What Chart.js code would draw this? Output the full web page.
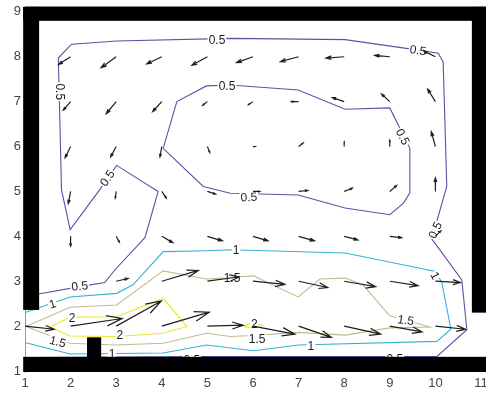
<!DOCTYPE html>
<html>
<head>
<meta charset="utf-8">
<script src="https://cdn.jsdelivr.net/npm/chart.js@4.4.1/dist/chart.umd.min.js"></script>
<style>
  html, body { margin: 0; padding: 0; background: #fff; }
  canvas { display: block; }
</style>
</head>
<body>
<canvas id="flow" width="486" height="394"></canvas>
<script>
// axes
const X_TICKS = [1, 2, 3, 4, 5, 6, 7, 8, 9, 10, 11];
const Y_TICKS = [1, 2, 3, 4, 5, 6, 7, 8, 9];
const X_RANGE = [1, 11.11];
const Y_RANGE = [0.978, 9.13];

// velocity field (quiver) on the grid, rows from y=8 down to y=2
const GRID_X = [1, 2, 3, 4, 5, 6, 7, 8, 9, 10];
const GRID_Y = [8, 7, 6, 5, 4, 3, 2];
const U = [
  [0, -0.26, -0.33, -0.33, -0.34, -0.36, -0.40, -0.40, -0.33, -0.26],
  [0, -0.16, -0.22, -0.20, -0.10, -0.10, -0.16, -0.26, -0.18, -0.17],
  [0, -0.12, -0.12, -0.04, 0.05, 0.05, 0.10, 0.00, 0.00, -0.09],
  [0, -0.05, -0.02, 0.10, 0.18, 0.15, 0.20, 0.18, 0.15, 0.00],
  [0, 0.00, 0.07, 0.24, 0.33, 0.33, 0.35, 0.30, 0.26, 0.12],
  [0, 0.00, 0.26, 0.80, 0.70, 0.70, 0.64, 0.69, 0.62, 0.55],
  [0.64, 1.13, 0.99, 1.04, 0.78, 0.92, 0.72, 0.80, 0.71, 0.66]
];
const V = [
  [0, -0.17, -0.245, -0.16, -0.19, -0.13, -0.11, -0.03, 0.03, 0.13],
  [0, -0.19, -0.27, -0.22, -0.08, -0.07, 0.00, 0.09, 0.17, 0.28],
  [0, -0.25, -0.23, -0.23, -0.13, 0.00, 0.08, 0.10, 0.14, 0.33],
  [0, -0.27, -0.15, -0.15, -0.06, 0.00, 0.02, 0.07, 0.13, 0.30],
  [0, -0.22, -0.13, -0.14, -0.10, -0.10, -0.10, -0.08, -0.03, 0.12],
  [0, 0.00, 0.06, 0.24, 0.10, -0.07, -0.14, -0.12, -0.10, -0.03],
  [-0.07, 0.17, 0.56, 0.31, 0.02, -0.18, -0.25, -0.18, -0.13, -0.07]
];

// speed contours [x, y]
const C05_OUTER = [[1.25, 2.72], [1.33, 2.72], [2.2, 2.88], [2.75, 2.97], [2.97, 3.25], [3.63, 3.97],
  [3.92, 5.0], [3.01, 5.58], [2.64, 5.04], [1.99, 4.15], [1.8, 5.04], [1.75, 7.2], [1.73, 7.97],
  [2.02, 8.28], [3.01, 8.35], [5.5, 8.41], [8.02, 8.38], [9.4, 8.18], [10.06, 8.08], [10.17, 7.89],
  [10.25, 5.11], [10.03, 4.33], [9.88, 4.0], [10.58, 3.03], [10.69, 1.92], [10.03, 1.32],
  [8.9, 1.32], [4.7, 1.32], [1.2, 1.3]];
const C05_INNER = [[4.03, 5.96], [4.33, 7.0], [4.98, 7.35], [5.5, 7.37], [6.99, 7.26], [8.02, 6.83],
  [9.0, 6.86], [9.44, 5.96], [9.44, 4.97], [9.3, 4.74], [9.0, 4.48], [8.02, 4.63], [6.99, 4.92],
  [5.5, 4.96], [4.91, 5.11], [4.03, 5.96]];
const C1 = [[1.02, 2.31], [1.99, 2.65], [3.01, 2.73], [3.37, 2.92], [4.03, 3.66], [4.98, 3.68],
  [5.5, 3.7], [8.02, 3.63], [9.66, 3.29], [9.99, 3.22], [10.14, 2.98], [10.34, 1.93], [10.03, 1.66],
  [7.0, 1.58], [6.01, 1.45], [4.98, 1.58], [4.03, 1.40], [1.99, 1.38], [1.02, 1.63]];
const C15 = [[1.02, 1.99], [1.99, 2.42], [3.01, 2.47], [4.03, 3.23], [4.98, 3.05], [6.01, 3.12],
  [6.99, 2.65], [7.47, 3.05], [8.02, 3.07], [8.41, 2.92], [9.0, 2.23], [9.88, 1.98], [9.0, 1.96],
  [8.02, 1.80], [6.99, 1.86], [6.01, 1.79], [5.5, 1.77], [4.98, 1.84], [4.03, 1.62], [2.97, 1.58],
  [1.99, 1.62], [1.02, 1.99]];
const C2_LEFT = [[1.55, 1.98], [1.99, 2.20], [3.01, 2.21], [4.03, 2.62], [4.55, 1.99], [4.03, 1.84],
  [3.01, 1.77], [1.99, 1.78], [1.55, 1.98]];
const C2_RIGHT = [[5.78, 2.0], [6.0, 2.08], [6.2, 2.02], [6.0, 1.95], [5.78, 2.0]];

// contour labels: level, x, y, angle (deg)
const LABELS = [
  [0.5, 5.21, 8.38, 0], [0.5, 9.62, 8.15, 8], [0.5, 1.77, 7.22, 90], [0.5, 2.80, 5.30, -56],
  [0.5, 9.99, 4.14, -65], [0.5, 9.11, 1.27, 0], [0.5, 4.66, 1.26, 0], [0.5, 2.20, 2.90, -5],
  [0.5, 5.43, 7.35, 0], [0.5, 9.29, 6.22, 63], [0.5, 5.91, 4.88, -3],
  [1, 5.63, 3.70, 0], [1, 10.0, 3.13, 62], [1, 1.60, 2.50, -17], [1, 7.27, 1.56, 0], [1, 2.91, 1.38, 0],
  [1.5, 1.72, 1.66, 15], [1.5, 5.54, 3.07, 0], [1.5, 9.35, 2.14, 8], [1.5, 6.09, 1.72, 0],
  [2, 2.03, 2.18, 0], [2, 3.08, 1.81, 0], [2, 6.03, 2.05, 0]
];

// walls [x0, x1, y0, y1]
const WALLS = [
  [0.96, 11.2, 8.80, 9.11],
  [0.96, 1.31, 2.36, 9.11],
  [10.80, 11.2, 2.30, 9.11],
  [0.96, 11.2, 0.90, 1.316],
  [2.36, 2.67, 1.30, 1.75]
];

const LEVEL_COLORS = { 0.5: "#5a52a5", 1: "#36b2d0", 1.5: "#bcbd8e", 2: "#f0e52e" };

function toPts(arr) {
  return arr.map((p) => ({ x: p[0], y: p[1] }));
}

function contour(level, pts) {
  return {
    level: level,
    data: toPts(pts),
    showLine: true,
    borderColor: LEVEL_COLORS[level],
    borderWidth: 1.1,
    pointRadius: 0,
    tension: 0,
    fill: false
  };
}

const quiverPts = [];
GRID_Y.forEach((y, r) => {
  GRID_X.forEach((x, c) => {
    quiverPts.push({ x: x, y: y, u: U[r][c], v: V[r][c] });
  });
});

// labels, arrows, then the walls on top
const overlayPlugin = {
  id: "overlay",
  afterDatasetsDraw(chart) {
    const ctx = chart.ctx;
    const xs = chart.scales.x;
    const ys = chart.scales.y;

    // contour labels
    ctx.save();
    ctx.font = "12px 'Liberation Sans', Arial, sans-serif";
    ctx.textAlign = "center";
    ctx.textBaseline = "middle";
    LABELS.forEach(([level, x, y, ang]) => {
      const txt = String(level);
      const px = xs.getPixelForValue(x);
      const py = ys.getPixelForValue(y);
      const w = ctx.measureText(txt).width;
      ctx.save();
      ctx.translate(px, py);
      ctx.rotate((ang * Math.PI) / 180);
      ctx.fillStyle = "#fff";
      ctx.fillRect(-w / 2 - 1, -5, w + 2, 10);
      ctx.fillStyle = "#1a1a1a";
      ctx.fillText(txt, 0, 1);
      ctx.restore();
    });
    ctx.restore();

    // quiver arrows
    const q = chart.data.datasets.find((d) => d.quiver);
    ctx.save();
    ctx.strokeStyle = "#1e1e1e";
    ctx.lineWidth = 1.2;
    q.data.forEach((p) => {
      if (!p.u && !p.v) return;
      const x0 = xs.getPixelForValue(p.x);
      const y0 = ys.getPixelForValue(p.y);
      const x1 = xs.getPixelForValue(p.x + p.u);
      const y1 = ys.getPixelForValue(p.y + p.v);
      const dx = x1 - x0;
      const dy = y1 - y0;
      const a = 0.3, b = 0.33;
      ctx.beginPath();
      ctx.moveTo(x0, y0);
      ctx.lineTo(x1, y1);
      ctx.moveTo(x1 - a * (dx + b * dy), y1 - a * (dy - b * dx));
      ctx.lineTo(x1, y1);
      ctx.lineTo(x1 - a * (dx - b * dy), y1 - a * (dy + b * dx));
      ctx.stroke();
    });
    ctx.restore();

    // walls
    ctx.save();
    ctx.fillStyle = "#000";
    WALLS.forEach(([xa, xb, ya, yb]) => {
      const l = xs.getPixelForValue(xa);
      const r = xs.getPixelForValue(xb);
      const t = ys.getPixelForValue(yb);
      const btm = Math.min(ys.getPixelForValue(ya), chart.chartArea.bottom);
      ctx.fillRect(l, t, r - l, btm - t);
    });
    ctx.restore();
  }
};

const tickFont = { family: "'Liberation Sans', Arial, sans-serif", size: 13 };

new Chart(document.getElementById("flow"), {
  type: "scatter",
  data: {
    datasets: [
      contour(0.5, C05_OUTER),
      contour(0.5, C05_INNER),
      contour(1, C1),
      contour(1.5, C15),
      contour(2, C2_LEFT),
      contour(2, C2_RIGHT),
      { quiver: true, data: quiverPts, pointRadius: 0 }
    ]
  },
  options: {
    responsive: false,
    animation: false,
    layout: { padding: { top: 6, right: 0, bottom: 0, left: 0 } },
    plugins: { legend: { display: false }, tooltip: { enabled: false } },
    scales: {
      x: {
        type: "linear",
        position: "bottom",
        min: X_RANGE[0],
        max: X_RANGE[1],
        afterBuildTicks: (s) => { s.ticks = X_TICKS.map((v) => ({ value: v })); },
        afterFit: (s) => { s.height = 22; s.paddingLeft = 0; s.paddingRight = 0; },
        grid: { display: false, drawTicks: false },
        border: { display: false },
        ticks: { color: "#444", font: tickFont, padding: 4, maxRotation: 0, autoSkip: false }
      },
      x2: {
        type: "linear",
        position: "top",
        min: X_RANGE[0],
        max: X_RANGE[1],
        afterFit: (s) => { s.height = 0; s.paddingLeft = 0; s.paddingRight = 0; },
        grid: { display: false, drawTicks: false },
        border: { display: true, color: "#9a9a9a", width: 1 },
        ticks: { display: false }
      },
      y: {
        type: "linear",
        min: Y_RANGE[0],
        max: Y_RANGE[1],
        afterBuildTicks: (s) => { s.ticks = Y_TICKS.map((v) => ({ value: v })); },
        afterFit: (s) => { s.width = 25; s.paddingTop = 0; s.paddingBottom = 0; },
        grid: { display: false, drawTicks: false },
        border: { display: true, color: "#9a9a9a", width: 1 },
        ticks: { color: "#444", font: tickFont, padding: 4, autoSkip: false }
      }
    }
  },
  plugins: [overlayPlugin]
});
</script>
</body>
</html>
